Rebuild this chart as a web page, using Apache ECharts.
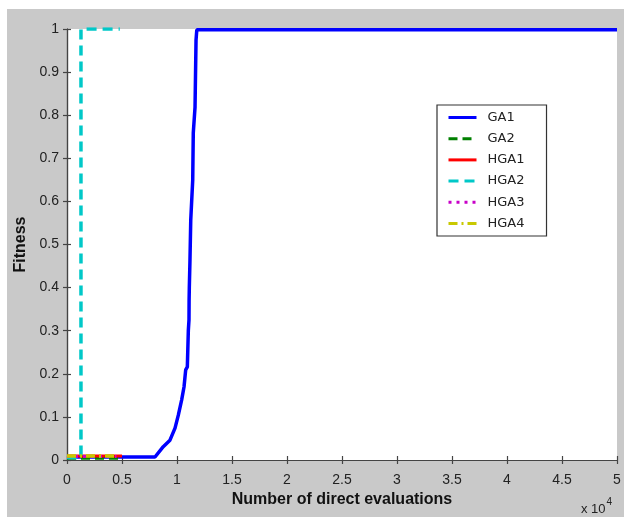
<!DOCTYPE html>
<html>
<head>
<meta charset="utf-8">
<script src="https://cdn.jsdelivr.net/npm/echarts@6/dist/echarts.min.js"></script>
<style>
  html, body { margin: 0; padding: 0; background: #fff; }
  #chart { width: 624px; height: 517px; }
</style>
</head>
<body>
<div id="chart"></div>
<script>
// x in number of direct evaluations, y is fitness
var seriesNames = ['GA1', 'GA2', 'HGA1', 'HGA2', 'HGA3', 'HGA4'];
var ga1 = [[0, 0.007], [8000, 0.007], [8750, 0.031], [9360, 0.046], [9820, 0.074], [10120, 0.104],
  [10420, 0.139], [10640, 0.17], [10790, 0.209], [10940, 0.216], [11030, 0.30], [11090, 0.325],
  [11100, 0.371], [11120, 0.40], [11180, 0.464], [11250, 0.557], [11430, 0.65], [11480, 0.759],
  [11640, 0.819], [11730, 0.974], [11800, 0.998], [12100, 0.998], [50000, 0.998]];
var ga2 = [[0, 0.004], [4800, 0.004]];
var hga1 = [[0, 0.009], [5000, 0.009]];
var hga2 = [[0, 0.006], [1270, 0.006], [1270, 1], [4800, 1]];
var hga3 = [[0, 0.008], [4500, 0.008]];
var hga4 = [[0, 0.009], [4600, 0.009]];
var xTicks = [0, 0.5, 1, 1.5, 2, 2.5, 3, 3.5, 4, 4.5, 5]; // in units of 10^4
var yTicks = [0, 0.1, 0.2, 0.3, 0.4, 0.5, 0.6, 0.7, 0.8, 0.9, 1];

var colors = ['#0000ff', '#008000', '#ff0000', '#00c8c8', '#c800c8', '#c8c800'];
var dashes = ['solid', [9, 5], 'solid', [10, 6], [3, 5], [9, 4, 2, 4]];
var widths = [3.5, 3, 3, 3.5, 3, 3.5];
var allData = [ga1, ga2, hga1, hga2, hga3, hga4];

var chart = echarts.init(document.getElementById('chart'), null, { renderer: 'canvas' });
var font = 'Liberation Sans, Arial, sans-serif';

var series = [];
for (var i = 0; i < seriesNames.length; i++) {
  series.push({
    name: seriesNames[i],
    type: 'line',
    data: allData[i],
    showSymbol: false,
    symbol: 'none',
    animation: false,
    color: colors[i],
    lineStyle: { color: colors[i], width: widths[i], type: dashes[i] }
  });
}

function fmt(v) { return String(Math.round(v * 10) / 10); }

var axisLine = { show: true, lineStyle: { color: '#444', width: 1.2 } };
var tick = { show: true, inside: true, length: 4, lineStyle: { color: '#444', width: 1.2 } };

var option = {
  backgroundColor: '#ffffff',
  graphic: [
    { type: 'rect', left: 7, top: 9, shape: { width: 617, height: 508 }, style: { fill: '#c9c9c9' }, z: -10, silent: true },
    { type: 'text', left: 581, top: 497,
      style: { text: '{a|x 10}{b|4}', rich: {
        a: { fontSize: 13, fontFamily: font, fill: '#222', padding: [6, 0, 0, 0] },
        b: { fontSize: 10, fontFamily: font, fill: '#222', verticalAlign: 'top', padding: [0, 0, 6, 1] } } } }
  ],
  grid: { left: 67, right: 7, top: 29, bottom: 57, show: true, backgroundColor: '#ffffff', borderWidth: 0 },
  legend: {
    data: seriesNames,
    orient: 'vertical',
    left: 437, top: 105,
    itemWidth: 28, itemHeight: 12, itemGap: 8.2,
    padding: [6, 22, 6, 10],
    backgroundColor: '#ffffff',
    borderColor: '#333', borderWidth: 1.2, borderRadius: 0,
    itemStyle: { opacity: 0 },
    lineStyle: { width: 3 },
    textStyle: { fontSize: 13, fontFamily: 'DejaVu Sans, sans-serif', color: '#222', padding: [0, 0, 0, 6] }
  },
  xAxis: [{
    type: 'value', min: 0, max: 50000, interval: 5000,
    name: 'Number of direct evaluations', nameLocation: 'middle', nameGap: 32,
    nameTextStyle: { fontSize: 16, fontWeight: 'bold', fontFamily: font, color: '#111' },
    axisLine: axisLine, axisTick: tick, splitLine: { show: false },
    axisLabel: { margin: 13, fontSize: 14, fontFamily: font, color: '#222',
      formatter: function (v) { return fmt(xTicks[Math.round(v / 5000)]); } }
  }, {
    type: 'value', min: 0, max: 50000, interval: 5000, position: 'top',
    axisLine: axisLine, axisTick: tick, axisLabel: { show: false }, splitLine: { show: false }
  }],
  yAxis: [{
    type: 'value', min: 0, max: 1, interval: 0.1,
    name: 'Fitness', nameLocation: 'middle', nameGap: 37,
    nameTextStyle: { fontSize: 16, fontWeight: 'bold', fontFamily: font, color: '#111' },
    axisLine: axisLine, axisTick: tick, splitLine: { show: false },
    axisLabel: { margin: 8, fontSize: 14, fontFamily: font, color: '#222',
      formatter: function (v) { return fmt(yTicks[Math.round(v * 10)]); } }
  }, {
    type: 'value', min: 0, max: 1, interval: 0.1, position: 'right',
    axisLine: axisLine, axisTick: tick, axisLabel: { show: false }, splitLine: { show: false }
  }],
  series: series
};

chart.setOption(option);
</script>
</body>
</html>
